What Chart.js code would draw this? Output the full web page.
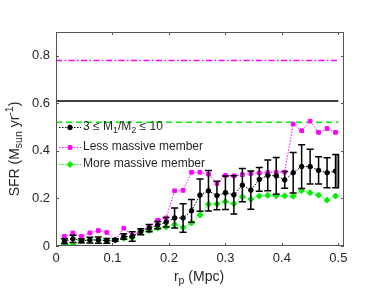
<!DOCTYPE html>
<html>
<head>
<meta charset="utf-8">
<script src="https://cdn.jsdelivr.net/npm/chart.js@4.4.1/dist/chart.umd.min.js"></script>
<style>
  html, body { margin: 0; padding: 0; background: #fff; }
</style>
</head>
<body>
<canvas id="sfrChart" width="382" height="305"></canvas>
<script>
// projected separation bins (Mpc)
const rp = [0.015, 0.030, 0.045, 0.060, 0.075, 0.090, 0.105, 0.120, 0.135, 0.150, 0.165,
            0.180, 0.195, 0.210, 0.225, 0.240, 0.255, 0.270, 0.285, 0.300, 0.315, 0.330,
            0.345, 0.360, 0.375, 0.390, 0.405, 0.420, 0.435, 0.450, 0.465, 0.480, 0.495];

// 3 <= M1/M2 <= 10, with error bars
const sfrPair = [0.020, 0.030, 0.022, 0.025, 0.025, 0.022, 0.025, 0.040, 0.040, 0.060, 0.075,
                 0.088, 0.100, 0.118, 0.118, 0.148, 0.214, 0.232, 0.212, 0.224, 0.215, 0.256,
                 0.235, 0.280, 0.297, 0.295, 0.278, 0.308, 0.334, 0.334, 0.318, 0.308, 0.315];
const sfrPairErr = [0.010, 0.015, 0.008, 0.012, 0.013, 0.010, 0.005, 0.012, 0.020, 0.013, 0.015,
                    0.015, 0.020, 0.042, 0.060, 0.048, 0.068, 0.085, 0.060, 0.070, 0.080, 0.070,
                    0.080, 0.050, 0.065, 0.077, 0.035, 0.085, 0.092, 0.073, 0.057, 0.063, 0.070];

// less massive member
const sfrLess = [0.040, 0.055, 0.040, 0.055, 0.065, 0.057, 0.025, 0.075, 0.045, 0.065, 0.080,
                 0.108, 0.118, 0.232, 0.234, 0.310, 0.310, 0.302, 0.263, 0.297, 0.295, 0.300,
                 0.305, 0.307, 0.309, 0.310, 0.311, 0.513, 0.485, 0.525, 0.478, 0.494, 0.478];

// more massive member
const sfrMore = [0.005, 0.005, 0.022, 0.026, 0.026, 0.022, 0.025, 0.032, 0.035, 0.060, 0.065,
                 0.075, 0.080, 0.090, 0.078, 0.097, 0.130, 0.176, 0.177, 0.186, 0.178, 0.207,
                 0.197, 0.210, 0.213, 0.211, 0.211, 0.209, 0.233, 0.224, 0.214, 0.193, 0.210];

// reference levels (control samples)
const refLess = 0.78;
const refPair = 0.61;
const refMore = 0.52;
const refSpan = [0, 0.5];

const xTicks = [0, 0.1, 0.2, 0.3, 0.4, 0.5];
const yTicks = [0, 0.2, 0.4, 0.6, 0.8];

const textColor = '#262626';
const axisColor = '#555555';
const FONT = 'Liberation Sans, Arial, Helvetica, sans-serif';

const pts = vals => vals.map((v, i) => ({ x: rp[i], y: v }));
const hline = v => refSpan.map(x => ({ x: x, y: v }));

const legendItems = [
  { color: '#000000', style: 'circle', radius: 2.3,
    label: [['3 \u2264 M', 0], ['1', 1], ['/M', 0], ['2', 1], [' \u2264 10', 0]] },
  { color: '#ff00ff', style: 'rect', radius: 2.6, label: [['Less massive member', 0]] },
  { color: '#00ee00', style: 'rectRot', radius: 3, label: [['More massive member', 0]] }
];

// draw a run of text pieces: mode 0 normal, 1 subscript, 2 superscript
function drawPieces(ctx, pieces, x, y, size) {
  let cx = x;
  pieces.forEach(([txt, mode]) => {
    const s = mode ? size * 0.75 : size;
    ctx.font = s + 'px ' + FONT;
    const dy = mode === 1 ? size * 0.32 : (mode === 2 ? -size * 0.38 : 0);
    ctx.fillText(txt, cx, y + dy);
    cx += ctx.measureText(txt).width;
  });
  return cx - x;
}
function piecesWidth(ctx, pieces, size) {
  let w = 0;
  pieces.forEach(([txt, mode]) => {
    ctx.font = (mode ? size * 0.75 : size) + 'px ' + FONT;
    w += ctx.measureText(txt).width;
  });
  return w;
}

const decorPlugin = {
  id: 'decor',
  afterDatasetsDraw(chart) {
    const ctx = chart.ctx;
    const xs = chart.scales.x, ys = chart.scales.y;
    // error bars for the pair sample
    ctx.save();
    ctx.strokeStyle = '#000';
    ctx.lineWidth = 1.5;
    sfrPair.forEach((v, i) => {
      const px = xs.getPixelForValue(rp[i]);
      const top = ys.getPixelForValue(v + sfrPairErr[i]);
      const bot = ys.getPixelForValue(Math.max(0, v - sfrPairErr[i]));
      if (i === sfrPair.length - 1) {
        ctx.fillStyle = '#8a8a8a';
        ctx.fillRect(px, top, 3, bot - top);
        ctx.beginPath();
        ctx.moveTo(px + 3, top); ctx.lineTo(px + 3, bot);
        ctx.stroke();
      }
      ctx.beginPath();
      ctx.moveTo(px, top); ctx.lineTo(px, bot);
      ctx.moveTo(px - 3.5, top); ctx.lineTo(px + 3.5, top);
      ctx.moveTo(px - 3.5, bot); ctx.lineTo(px + 3.5, bot);
      ctx.stroke();
    });
    ctx.restore();
  },
  afterDraw(chart) {
    const ctx = chart.ctx;
    const a = chart.chartArea;
    const xs = chart.scales.x, ys = chart.scales.y;
    ctx.save();
    // axes box
    ctx.strokeStyle = axisColor;
    ctx.lineWidth = 1;
    ctx.strokeRect(a.left + 0.5, a.top + 0.5, a.right - a.left - 1, a.bottom - a.top - 1);
    // inward ticks
    ctx.beginPath();
    xTicks.forEach(v => {
      const px = Math.round(xs.getPixelForValue(v)) + 0.5;
      ctx.moveTo(px, a.bottom); ctx.lineTo(px, a.bottom - 3);
      ctx.moveTo(px, a.top); ctx.lineTo(px, a.top + 3);
    });
    yTicks.forEach(v => {
      const py = Math.round(ys.getPixelForValue(v)) + 0.5;
      ctx.moveTo(a.left, py); ctx.lineTo(a.left + 3, py);
      ctx.moveTo(a.right, py); ctx.lineTo(a.right - 3, py);
    });
    ctx.stroke();

    // axis titles
    ctx.fillStyle = textColor;
    ctx.textBaseline = 'middle';
    const xTitle = [['r', 0], ['p', 1], [' (Mpc)', 0]];
    const xw = piecesWidth(ctx, xTitle, 14);
    drawPieces(ctx, xTitle, 199 - xw / 2, 277, 14);

    const yTitle = [['SFR (M', 0], ['sun', 1], [' yr', 0], ['-1', 2], [')', 0]];
    const yw = piecesWidth(ctx, yTitle, 14);
    ctx.save();
    ctx.translate(15, 149);
    ctx.rotate(-Math.PI / 2);
    drawPieces(ctx, yTitle, -yw / 2, 0, 14);
    ctx.restore();

    // legend inside the axes
    const rows = [127, 147, 164];
    legendItems.forEach((item, k) => {
      const y = rows[k] + 0.5;
      ctx.strokeStyle = item.color;
      ctx.fillStyle = item.color;
      ctx.lineWidth = 1;
      ctx.setLineDash([1.5, 1.5]);
      ctx.beginPath();
      ctx.moveTo(59, y); ctx.lineTo(81, y);
      ctx.stroke();
      ctx.setLineDash([]);
      Chart.helpers.drawPoint(ctx, { pointStyle: item.style, radius: item.radius, borderWidth: 1 }, 70, y);
      ctx.fillStyle = textColor;
      drawPieces(ctx, item.label, 83, rows[k], 12);
    });
    ctx.restore();
  }
};

const seriesStyle = (color, style, radius) => ({
  borderColor: color,
  backgroundColor: color,
  pointBackgroundColor: color,
  pointBorderColor: color,
  pointStyle: style,
  pointRadius: radius,
  borderWidth: 1,
  borderDash: [1.5, 1.5],
  tension: 0,
  fill: false
});

const ctx = document.getElementById('sfrChart').getContext('2d');
new Chart(ctx, {
  type: 'line',
  data: {
    datasets: [
      Object.assign({ label: 'Less massive member', data: pts(sfrLess), order: 3 },
                    seriesStyle('#ff00ff', 'rect', 2.6)),
      Object.assign({ label: 'More massive member', data: pts(sfrMore), order: 2 },
                    seriesStyle('#00ee00', 'rectRot', 3)),
      Object.assign({ label: '3 <= M1/M2 <= 10', data: pts(sfrPair), order: 1 },
                    seriesStyle('#000000', 'circle', 2.3)),
      { label: 'less ref', data: hline(refLess), borderColor: '#ff00ff', borderWidth: 1.5,
        borderDash: [6, 2.5, 1.5, 2.5], pointRadius: 0, order: 4 },
      { label: 'pair ref', data: hline(refPair), borderColor: '#000000', borderWidth: 1.5,
        pointRadius: 0, order: 4 },
      { label: 'more ref', data: hline(refMore), borderColor: '#00ee00', borderWidth: 1.5,
        borderDash: [6, 4], pointRadius: 0, order: 4 }
    ]
  },
  options: {
    responsive: false,
    animation: false,
    layout: { padding: { left: 0, right: 38, top: 32, bottom: 0 } },
    plugins: {
      legend: { display: false },
      tooltip: { enabled: false }
    },
    scales: {
      x: {
        type: 'linear',
        min: 0,
        max: 0.51,
        afterBuildTicks: s => { s.ticks = xTicks.map(v => ({ value: v })); },
        afterFit: s => { s.height = 59; },
        grid: { display: false, drawTicks: false },
        border: { display: false },
        ticks: {
          color: textColor,
          padding: 5,
          maxRotation: 0,
          font: { family: FONT, size: 13 },
          callback: v => String(v)
        }
      },
      y: {
        type: 'linear',
        min: 0,
        max: 0.9,
        afterBuildTicks: s => { s.ticks = yTicks.map(v => ({ value: v })); },
        afterFit: s => { s.width = 56; },
        grid: { display: false, drawTicks: false },
        border: { display: false },
        ticks: {
          color: textColor,
          padding: 6,
          font: { family: FONT, size: 13 },
          callback: v => String(v)
        }
      }
    }
  },
  plugins: [decorPlugin]
});
</script>
</body>
</html>
